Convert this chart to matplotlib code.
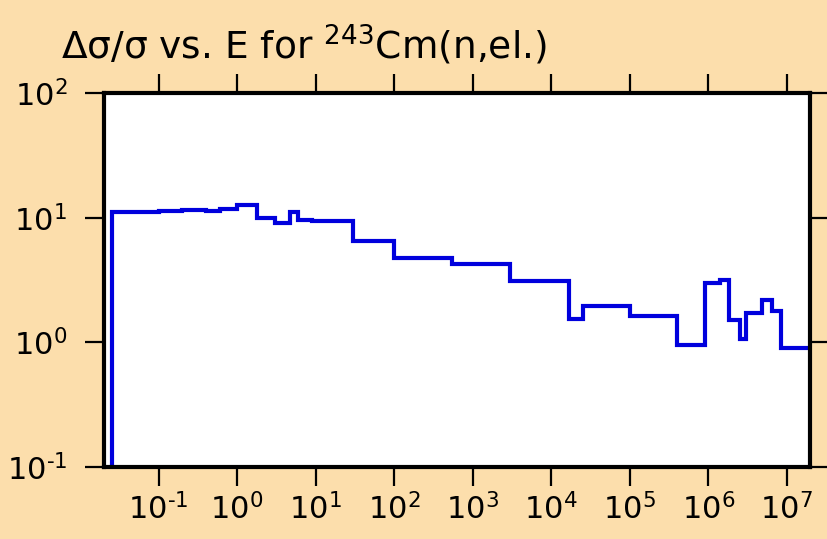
import numpy as np
import matplotlib
matplotlib.use('Agg')
from matplotlib import pyplot as plt

plt.rcParams['font.family'] = ['DejaVu Sans']
plt.rcParams['mathtext.fontset'] = 'dejavusans'

# energy group boundaries (eV) and relative uncertainty (%)
edges = [0.0253, 0.1, 0.2, 0.4, 0.6, 1.0, 1.77, 3.0, 4.7, 6.0, 8.9, 30, 100,
         550, 3000, 17000, 25000, 1e5, 4e5, 9e5, 1.4e6, 1.85e6, 2.5e6, 3e6,
         4.8e6, 6.4e6, 8.4e6, 2e7]
rel_unc = [11.1, 11.3, 11.5, 11.4, 11.7, 12.6, 9.9, 9.0, 11.2, 9.6, 9.35,
           6.55, 4.71, 4.22, 3.1, 1.54, 1.97, 1.64, 0.946, 3.0, 3.15, 1.52,
           1.07, 1.73, 2.18, 1.79, 0.906]

xticks = [1e-1, 1e0, 1e1, 1e2, 1e3, 1e4, 1e5, 1e6, 1e7]
yticks = [1e-1, 1e0, 1e1, 1e2]


def lab(t):
    # plain hyphen for the exponent sign, as in the original
    e = str(int(np.log10(t))).replace('-', '\u2010')
    return r'$10^{%s}$' % e


bg = '#FCDEAC'
fig = plt.figure(figsize=(8.27, 5.39), dpi=100, facecolor=bg)
ax = fig.add_axes([104/827, 1 - 467/539, 706/827, 374/539])
ax.set_facecolor('white')

ax.stairs(rel_unc, edges, baseline=1e-3, fill=False, color='#0000DD', lw=3.0)

ax.set_xscale('log')
ax.set_yscale('log')
ax.set_xlim(0.0202, 1.97e7)
ax.set_ylim(0.1, 100)

ax.set_xticks(xticks)
ax.set_xticklabels([lab(t) for t in xticks])
ax.set_yticks(yticks)
ax.set_yticklabels([lab(t) for t in yticks])
ax.minorticks_off()
ax.tick_params(which='major', direction='out', length=13.5, width=1.6,
               top=True, right=True, labelsize=22, colors='black')
ax.tick_params(axis='x', pad=5)
ax.tick_params(axis='y', pad=13)

for s in ax.spines.values():
    s.set_linewidth(3.0)
    s.set_color('black')

fig.text(61/827, 1 - 59/539,
         'Δσ/σ vs. E for $^{243}$Cm(n,el.)',
         fontsize=27, ha='left', va='baseline')

plt.savefig('out.png', dpi=100, facecolor=bg)
